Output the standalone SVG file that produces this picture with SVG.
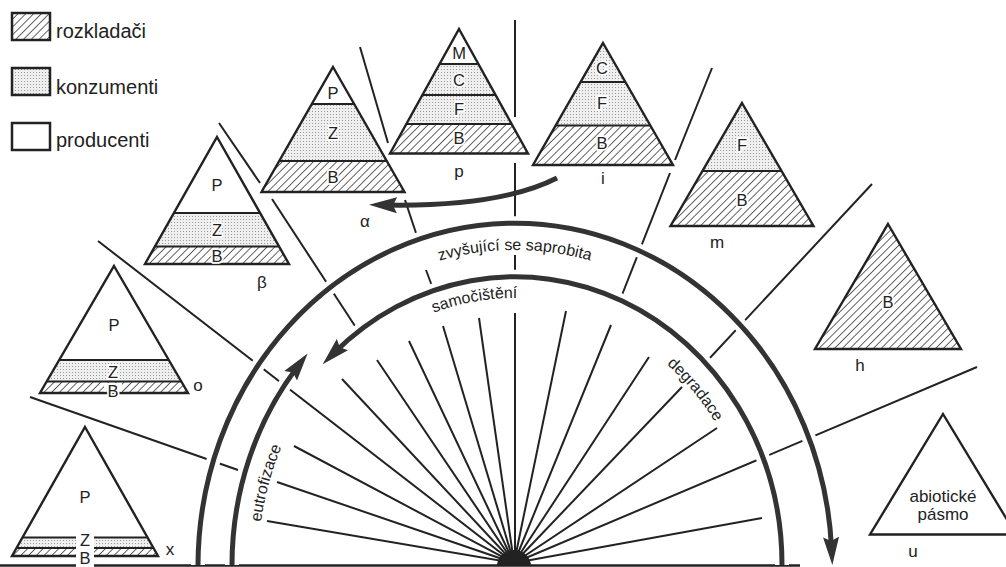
<svg xmlns="http://www.w3.org/2000/svg" width="1006" height="567" viewBox="0 0 1006 567">
<defs>
<style>
.tri{fill:none;stroke:#222;stroke-width:2.4;stroke-linejoin:miter}
.bl{stroke:#222;stroke-width:2}
.hat{fill:url(#hatch)}
.dot{fill:url(#dots)}
.wht{fill:#fff}
.lbl{font-family:"Liberation Sans",Arial,sans-serif;font-size:16.5px;fill:#222;text-anchor:middle;paint-order:stroke;stroke:#fff;stroke-width:3.5;stroke-linejoin:round}
.zone{font-family:"Liberation Sans",Arial,sans-serif;font-size:17px;fill:#222;text-anchor:middle}
.leg{font-family:"Liberation Sans",Arial,sans-serif;font-size:20px;fill:#222}
.arct{font-family:"Liberation Sans",Arial,sans-serif;font-size:16px;fill:#222}
.box{stroke:#222;stroke-width:2.5}
.div{stroke:#222;stroke-width:2;fill:none}
.spk{stroke:#222;stroke-width:2;fill:none}
.arc{stroke:#333;stroke-width:5;fill:none}
.halo{stroke:#fff;stroke-width:14;fill:none}
</style>
<pattern id="hatch" width="5.5" height="5.5" patternUnits="userSpaceOnUse" patternTransform="rotate(45)"><rect width="5.5" height="5.5" fill="#fff"/><line x1="0" y1="0" x2="0" y2="5.5" stroke="#222" stroke-width="1.4"/></pattern>
<pattern id="dots" width="3" height="3" patternUnits="userSpaceOnUse"><rect width="3" height="3" fill="#efefef"/><rect width="1" height="1" fill="#999"/></pattern>
<marker id="ah" viewBox="0 0 28 18" refX="12" refY="9" markerWidth="28" markerHeight="18" orient="auto" markerUnits="userSpaceOnUse"><path d="M0,1 L28,9 L0,17 L4,9 Z" fill="#333"/></marker>
<path id="tpOuter" d="M223,565 A292,315 0 0 1 807,565"/>
<path id="tpInner" d="M267.5,565 A247.5,267 0 0 1 762.5,565"/>
<path id="tpDeg" d="M275,565 A240,259 0 0 1 755,565"/>
<path id="tpEut" d="M258,565 A257,283 0 0 1 772,565"/>
</defs>
<rect width="1006" height="567" fill="#fff"/>

<g id="connectors">
  <!-- divider lines -->
  <line class="div" x1="30" y1="397" x2="238" y2="470"/>
  <line class="div" x1="98" y1="241" x2="514" y2="563"/>
  <line class="div" x1="219" y1="123" x2="260" y2="183"/>
  <line class="div" x1="272" y1="199" x2="355" y2="326"/>
  <line class="div" x1="360" y1="47" x2="388" y2="143"/>
  <line class="div" x1="405" y1="200" x2="416" y2="233"/>
  <line class="div" x1="426" y1="270" x2="432" y2="286"/>
  <line class="div" x1="515" y1="20" x2="515" y2="117"/>
  <line class="div" x1="515" y1="163" x2="515" y2="230"/>
  <line class="div" x1="515" y1="255" x2="515" y2="273"/>
  <line class="div" x1="712" y1="68" x2="675" y2="160"/>
  <line class="div" x1="670" y1="173" x2="620" y2="300"/>
  <line class="div" x1="872" y1="184" x2="708" y2="360"/>
  <line class="div" x1="977" y1="367" x2="514" y2="563"/>
  <!-- spokes -->
  <g class="spk">
    <line x1="514" y1="563" x2="267" y2="521"/>
    <line x1="514" y1="563" x2="277" y2="482"/>
    <line x1="514" y1="563" x2="294" y2="446"/>
    <line x1="514" y1="563" x2="342" y2="379"/>
    <line x1="514" y1="563" x2="377" y2="360"/>
    <line x1="514" y1="563" x2="409" y2="341"/>
    <line x1="514" y1="563" x2="443" y2="326"/>
    <line x1="514" y1="563" x2="479" y2="318"/>
    <line x1="515" y1="563" x2="515" y2="313"/>
    <line x1="514" y1="563" x2="566" y2="311"/>
    <line x1="514" y1="563" x2="611" y2="325"/>
    <line x1="514" y1="563" x2="649" y2="357"/>
    <line x1="514" y1="563" x2="682" y2="387"/>
    <line x1="514" y1="563" x2="717" y2="428"/>
    <line x1="514" y1="563" x2="762" y2="518"/>
  </g>
  <path d="M497,566 A17,16 0 0 1 531,566 Z" fill="#222"/>
  <!-- base line -->
  <line x1="0" y1="565.5" x2="76" y2="565.5" stroke="#222" stroke-width="2.5"/>
  <line x1="94" y1="565.5" x2="800" y2="565.5" stroke="#222" stroke-width="2.5"/>
  <!-- big arcs -->
  <path class="halo" d="M198,565 A317,343 0 0 1 831.6,549"/>
  <path class="halo" d="M782,565 A267,288 0 0 0 334,353"/>
  <path class="halo" d="M232,565 A283,310 0 0 1 297.9,366.2"/>
  <path class="arc" d="M198,565 A317,343 0 0 1 831.6,549" marker-end="url(#ah)"/>
  <path class="arc" d="M782,565 A267,288 0 0 0 334,353" marker-end="url(#ah)"/>
  <path class="arc" stroke-width="4.5" d="M232,565 A283,310 0 0 1 297.9,366.2" marker-end="url(#ah)"/>
  <!-- alpha arrow -->
  <path class="arc" stroke-width="5.5" d="M557,178 Q500,207 385,205" marker-end="url(#ah)"/>
  <!-- arc labels -->
  <text class="arct" text-anchor="middle"><textPath href="#tpOuter" startOffset="50%">zvyšující se saprobita</textPath></text>
  <text class="arct" text-anchor="middle"><textPath href="#tpInner" startOffset="45%">samočištění</textPath></text>
  <text class="arct" text-anchor="middle"><textPath href="#tpDeg" startOffset="76%">degradace</textPath></text>
  <text class="arct" text-anchor="middle"><textPath href="#tpEut" startOffset="9.7%">eutrofizace</textPath></text>
</g>

<g id="legend">
  <g id="legend-rozkladaci">
    <rect class="box hat" x="12" y="13" width="38" height="27"/>
    <text class="leg" x="56" y="37.5">rozkladači</text>
  </g>
  <g id="legend-konzumenti">
    <rect class="box dot" x="12" y="68" width="38" height="27"/>
    <text class="leg" x="56" y="94">konzumenti</text>
  </g>
  <g id="legend-producenti">
    <rect class="box wht" x="12" y="123" width="38" height="27"/>
    <text class="leg" x="56" y="147">producenti</text>
  </g>
</g>

<g id="zone-x">
  <polygon class="wht" points="85,427 147.5,537.5 22.5,537.5"/>
  <polygon class="dot" points="22.5,537.5 147.5,537.5 153.5,548 16.5,548"/>
  <polygon class="hat" points="16.5,548 153.5,548 158,556 12,556"/>
  <polygon class="tri" points="85,427 158,556 12,556"/>
  <line class="bl" x1="22.5" y1="537.5" x2="147.5" y2="537.5"/>
  <line class="bl" x1="16.5" y1="548" x2="153.5" y2="548"/>
  <rect class="wht" x="76" y="535" width="18" height="32"/>
  <text class="lbl" x="85" y="546" style="stroke-width:2">Z</text>
  <text class="lbl" x="85" y="564" style="stroke-width:2">B</text>
  <text class="lbl" x="85" y="503">P</text>
  <text class="zone" x="170" y="555">x</text>
</g>

<g id="zone-o">
  <polygon class="wht" points="114,266 168.8,360 59.2,360"/>
  <polygon class="dot" points="59.2,360 168.8,360 181.3,381.5 46.7,381.5"/>
  <polygon class="hat" points="46.7,381.5 181.3,381.5 188,393 40,393"/>
  <polygon class="tri" points="114,266 188,393 40,393"/>
  <line class="bl" x1="59.2" y1="360" x2="168.8" y2="360"/>
  <line class="bl" x1="46.7" y1="381.5" x2="181.3" y2="381.5"/>
  <rect class="wht" x="104" y="383" width="18" height="8.5"/>
  <text class="lbl" x="114" y="331">P</text>
  <text class="lbl" x="113" y="378">Z</text>
  <text class="lbl" x="113" y="397">B</text>
  <text class="zone" x="198" y="391">o</text>
</g>

<g id="zone-beta">
  <polygon class="wht" points="217,137 260.1,213 173.9,213"/>
  <polygon class="dot" points="173.9,213 260.1,213 279.1,246.5 154.9,246.5"/>
  <polygon class="hat" points="154.9,246.5 279.1,246.5 289,264 145,264"/>
  <polygon class="tri" points="217,137 289,264 145,264"/>
  <line class="bl" x1="173.9" y1="213" x2="260.1" y2="213"/>
  <line class="bl" x1="154.9" y1="246.5" x2="279.1" y2="246.5"/>
  <text class="lbl" x="217" y="191">P</text>
  <text class="lbl" x="217" y="236">Z</text>
  <text class="lbl" x="217" y="262">B</text>
  <text class="zone" x="262" y="288">β</text>
</g>

<g id="zone-alpha">
  <polygon class="wht" points="333,67 354.2,104 311.8,104"/>
  <polygon class="dot" points="311.8,104 354.2,104 386.8,161 279.2,161"/>
  <polygon class="hat" points="279.2,161 386.8,161 404.5,192 261.5,192"/>
  <polygon class="tri" points="333,67 404.5,192 261.5,192"/>
  <line class="bl" x1="311.8" y1="104" x2="354.2" y2="104"/>
  <line class="bl" x1="279.2" y1="161" x2="386.8" y2="161"/>
  <text class="lbl" x="333" y="99">P</text>
  <text class="lbl" x="333" y="139">Z</text>
  <text class="lbl" x="333" y="183">B</text>
  <text class="zone" x="365" y="227">α</text>
</g>

<g id="zone-p">
  <polygon class="wht" points="459,29 478.4,64 439.6,64"/>
  <polygon class="dot" points="439.6,64 478.4,64 511.6,124 406.4,124"/>
  <polygon class="hat" points="406.4,124 511.6,124 528,153.5 390,153.5"/>
  <polygon class="tri" points="459,29 528,153.5 390,153.5"/>
  <line class="bl" x1="439.6" y1="64" x2="478.4" y2="64"/>
  <line class="bl" x1="422.4" y1="95" x2="495.6" y2="95"/>
  <line class="bl" x1="406.4" y1="124" x2="511.6" y2="124"/>
  <text class="lbl" x="459" y="59">M</text>
  <text class="lbl" x="459" y="86">C</text>
  <text class="lbl" x="459" y="115">F</text>
  <text class="lbl" x="459" y="144">B</text>
  <text class="zone" x="459" y="177">p</text>
</g>

<g id="zone-i">
  <polygon class="dot" points="603,43 650.4,125.5 555.6,125.5"/>
  <polygon class="hat" points="555.6,125.5 650.4,125.5 673,165 533,165"/>
  <polygon class="tri" points="603,43 673,165 533,165"/>
  <line class="bl" x1="580.6" y1="82" x2="625.4" y2="82"/>
  <line class="bl" x1="555.6" y1="125.5" x2="650.4" y2="125.5"/>
  <text class="lbl" x="602" y="74">C</text>
  <text class="lbl" x="602" y="109">F</text>
  <text class="lbl" x="602" y="149">B</text>
  <text class="zone" x="603" y="184">i</text>
</g>

<g id="zone-m">
  <polygon class="dot" points="742,103 781.5,171 702.5,171"/>
  <polygon class="hat" points="702.5,171 781.5,171 813.5,226 670.5,226"/>
  <polygon class="tri" points="742,103 813.5,226 670.5,226"/>
  <line class="bl" x1="702.5" y1="171" x2="781.5" y2="171"/>
  <text class="lbl" x="742" y="151">F</text>
  <text class="lbl" x="742" y="206">B</text>
  <text class="zone" x="717" y="248">m</text>
</g>

<g id="zone-h">
  <polygon class="hat" points="888,224 961,349 815,349"/>
  <polygon class="tri" points="888,224 961,349 815,349"/>
  <text class="lbl" x="888" y="308">B</text>
  <text class="zone" x="860" y="371">h</text>
</g>

<g id="zone-u">
  <polygon class="tri" points="943,414 1016,534.5 870,534.5" style="fill:#fff"/>
  <text class="zone" x="943" y="502" font-size="15">abiotické</text>
  <text class="zone" x="943" y="520" font-size="15">pásmo</text>
  <text class="zone" x="913" y="557">u</text>
</g>
</svg>
